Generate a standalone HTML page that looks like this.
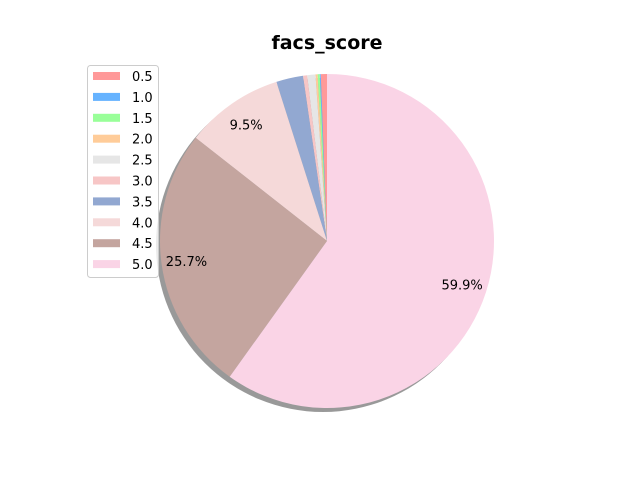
<!DOCTYPE html>
<html><head><meta charset="utf-8"><style>body{margin:0;background:#fff}svg{display:block;font-family:"DejaVu Sans","Liberation Sans",sans-serif}</style></head>
<body>
<svg id="chart" width="640" height="480" viewBox="0 0 640 480">
<rect width="640" height="480" fill="#fff"/>
<text x="327" y="49" text-anchor="middle" font-size="19" font-weight="bold">facs_score</text>
<g id="shadow"></g>
<g id="slices"></g>
<g id="labels"></g>
<g id="legend"></g>
</svg>
<script>
const categories=["0.5","1.0","1.5","2.0","2.5","3.0","3.5","4.0","4.5","5.0"];
const values=[0.6,0.1,0.2,0.2,0.8,0.4,2.6,9.5,25.7,59.9];
const colors=["#ff9999","#66b3ff","#99ff99","#ffcc99","#e6e6e6","#f7c6c6","#92a8d1","#f5d9d9","#c4a59f","#fad4e6"];
const NS="http://www.w3.org/2000/svg";
const cx=327,cy=241,r=167;
const total=values.reduce((a,b)=>a+b,0);
function pt(a,rr){return [cx+rr*Math.cos(a),cy-rr*Math.sin(a)];}
function mk(t,attrs,parent){const e=document.createElementNS(NS,t);for(const k in attrs)e.setAttribute(k,attrs[k]);parent.appendChild(e);return e;}
const sh=document.getElementById('shadow');
const c=mk('circle',{cx:cx-4,cy:cy+4,r:r,fill:'#000','fill-opacity':0.4},sh);


const sg=document.getElementById('slices'),lg=document.getElementById('labels'),leg=document.getElementById('legend');
let a=Math.PI/2;
values.forEach((v,i)=>{
  const da=v/total*2*Math.PI;
  const p1=pt(a,r),p2=pt(a+da,r);
  const large=da>Math.PI?1:0;
  const p=mk('path',{d:`M${cx},${cy}L${p1[0]},${p1[1]}A${r},${r} 0 ${large} 0 ${p2[0]},${p2[1]}Z`,fill:colors[i]},sg);
  
  
  if(v/total*100>5){
    const m=pt(a+da/2,r*0.85);
    const t=mk('text',{x:m[0],y:m[1]+5,'text-anchor':'middle','font-size':13},lg);
    t.textContent=(v/total*100).toFixed(1)+'%';
    
    
  }
  a+=da;
});
const box=mk('rect',{x:87.5,y:65.5,width:71,height:212,rx:3,fill:'#fff','fill-opacity':0.8,stroke:'#ccc'},leg);


categories.forEach((cat,i)=>{
  const y=76+i*20.9;
  const g=mk('g',{},leg);
  
  
  mk('rect',{x:93,y:y-4,width:27,height:8,fill:colors[i]},g);
  const t=mk('text',{x:132,y:y+5,'font-size':13},g);
  t.textContent=cat;
});
</script>
</body></html>
